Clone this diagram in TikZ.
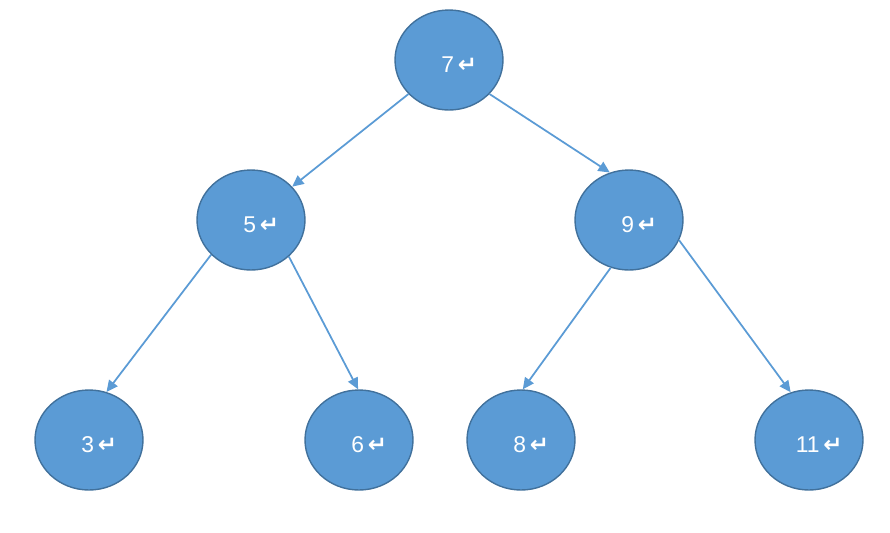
\documentclass[tikz,border=0pt]{standalone}
\usepackage{fontspec}
\setmainfont{Liberation Sans}
\newfontfamily\symfont{DejaVu Sans}
\usepackage{xcolor}
\usetikzlibrary{arrows.meta, shapes.geometric}
\definecolor{nodeblue}{HTML}{5B9BD5}
\definecolor{rimblue}{HTML}{41719C}
\newcommand{\retmark}{{\symfont\bfseries\char"21B5}}
\newcommand{\keytext}[1]{\hspace*{0.9em}#1\,\retmark}

\begin{document}
\begin{tikzpicture}[x=0.02cm, y=-0.02cm,
  treenode/.style={ellipse, draw=rimblue, fill=nodeblue, line width=0.8pt,
    minimum width=2.16cm, minimum height=2cm, inner sep=0pt,
    text=white, text height=14pt, text depth=0pt,
    font=\fontsize{13}{15}\selectfont},
  treeedge/.style={draw=nodeblue, line width=1pt,
    -{Triangle[length=6.5pt,width=6pt]}}]
  \useasboundingbox (0,0) rectangle (890,532);
  % nodes, centres in pixels of the 890x532 sheet
  \node[treenode] (n7) at (449,60) {\keytext{7}};
  \node[treenode] (n5) at (251,220) {\keytext{5}};
  \node[treenode] (n9) at (629,220) {\keytext{9}};
  \node[treenode] (n3) at (89,440) {\keytext{3}};
  \node[treenode] (n6) at (359,440) {\keytext{6}};
  \node[treenode] (n8) at (521,440) {\keytext{8}};
  \node[treenode] (n11) at (809,440) {\keytext{11}};
  % edges parent -> child, border angles
  \foreach \a/\aa/\b/\bb in {n7/220/n5/39, n7/320/n9/112, n5/221/n3/70,
                             n5/316/n6/91, n9/249/n8/88, n9/338/n11/111}
    \draw[treeedge] (\a.\aa) -- (\b.\bb);
\end{tikzpicture}
\end{document}
